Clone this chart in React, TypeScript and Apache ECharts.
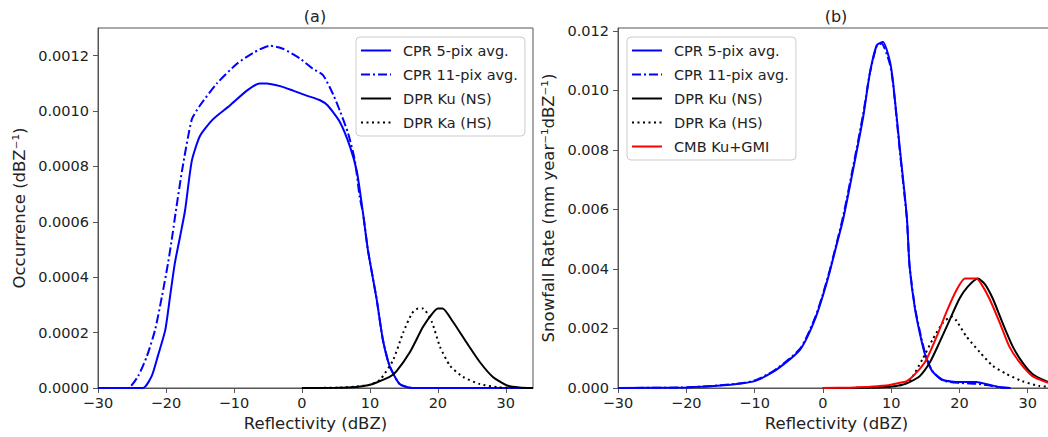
import React, { useEffect, useRef } from "react";
import * as echarts from "echarts";

// ---------- tick labels ----------
const xTicks = [-30, -20, -10, 0, 10, 20, 30];
const yTicksA = [0, 0.0002, 0.0004, 0.0006, 0.0008, 0.001, 0.0012];
const yTicksB = [0, 0.002, 0.004, 0.006, 0.008, 0.01, 0.012];

const names = ["CPR 5-pix avg.", "CPR 11-pix avg.", "DPR Ku (NS)", "DPR Ka (HS)", "CMB Ku+GMI"];

// ---------- panel (a): occurrence ----------
const aCpr5X = [-30, -23.4, -22.1, -21.2, -20.1, -19.4, -18.7, -17.9, -17.2, -16.2, -15, -13.1, -10.6, -8.1, -6.2, -5.2, -3.2, -1.3, 0.7, 2.6, 3.8, 5.6, 7.1, 8.1, 9.0, 9.7, 11, 11.9, 12.9, 14.4, 16.3, 33];
const aCpr5Y = [0, 0, 0.000043, 0.000115, 0.00021, 0.00033, 0.00045, 0.00055, 0.00064, 0.00082, 0.00091, 0.00097, 0.00102, 0.001074, 0.0011, 0.0011, 0.00109, 0.001074, 0.001056, 0.00104, 0.00102, 0.00096, 0.00087, 0.00078, 0.00063, 0.0005, 0.00032, 0.000176, 0.00008, 0.000014, 0, 0];

const aCpr11X = [-30, -25.6, -24.1, -22.8, -21.6, -20.6, -19.7, -19.0, -18.6, -17.6, -16.2, -15, -12.5, -9.6, -7.2, -4.7, -2.8, -0.3, 1.6, 3.1, 4.6, 5.6, 6.8, 7.8, 8.5, 9.0, 9.7, 11, 11.9, 12.9, 14.4, 16.3, 33];
const aCpr11Y = [0, 0, 0.000043, 0.000115, 0.00021, 0.00033, 0.00045, 0.00056, 0.00063, 0.00079, 0.00097, 0.00102, 0.0011, 0.00117, 0.00121, 0.001236, 0.001225, 0.00119, 0.001153, 0.00113, 0.00106, 0.001, 0.00092, 0.00082, 0.00069, 0.00063, 0.0005, 0.00032, 0.000176, 0.00008, 0.000014, 0, 0];

const aKuX = [0, 5, 8, 9.7, 11, 12.9, 13.9, 15.9, 17.8, 19.1, 20, 20.7, 22.2, 24.2, 26.2, 28.1, 30.1, 32, 34];
const aKuY = [0, 0.000001, 0.000004, 0.00001, 0.00002, 0.00004, 0.00006, 0.00013, 0.00022, 0.000266, 0.000287, 0.000287, 0.00024, 0.000165, 0.000093, 0.00004, 0.00001, 0.000002, 0];

const aKaX = [0, 5, 8, 10, 11.5, 13.4, 14.9, 16.2, 17.1, 17.8, 19.1, 20.3, 21.8, 23.7, 26.2, 28.7, 31];
const aKaY = [0, 0.000001, 0.000005, 0.000012, 0.00003, 0.0001, 0.0002, 0.00027, 0.000287, 0.000287, 0.00024, 0.00015, 0.00008, 0.00004, 0.000014, 0.000003, 0];

// ---------- panel (b): snowfall rate ----------
const bCpr5X = [-30, -20, -15, -12, -10, -7.3, -4.8, -3.3, -2.3, -1, 0, 1, 2, 3.0, 4.4, 5.9, 6.9, 7.9, 8.8, 9.8, 10.3, 11.3, 12.3, 12.7, 13.5, 14.5, 15.2, 16.1, 17.6, 20, 22.5, 24, 25.9, 27.5];
const bCpr5Y = [0, 0.00002, 0.00008, 0.00015, 0.00023, 0.00054, 0.00097, 0.0013, 0.0017, 0.0024, 0.0031, 0.0039, 0.0048, 0.0057, 0.0073, 0.0091, 0.0106, 0.01152, 0.01163, 0.011, 0.01025, 0.008, 0.00576, 0.0041, 0.00265, 0.00154, 0.00097, 0.00054, 0.00027, 0.0002, 0.0002, 0.00013, 0.00003, 0];

const bCpr11X = [-30, -20, -15, -12, -10, -7.3, -4.8, -3.3, -2.3, -1, 0, 1, 2, 3.0, 4.4, 5.9, 6.9, 7.9, 8.6, 9.8, 10.3, 11.3, 12.3, 12.7, 13.5, 14.5, 15.2, 16.1, 17.6, 20, 22.5, 24, 25.9, 27.5];
const bCpr11Y = [0, 0.00002, 0.00009, 0.00016, 0.00025, 0.00056, 0.001, 0.00133, 0.00175, 0.00245, 0.00315, 0.00395, 0.00485, 0.0058, 0.0074, 0.0092, 0.0106, 0.0115, 0.01158, 0.0109, 0.0102, 0.0079, 0.0057, 0.0041, 0.0027, 0.0016, 0.001, 0.00055, 0.00025, 0.00017, 0.00014, 0.0001, 0.00002, 0];

const bKuX = [0, 5, 6.4, 8, 9.8, 11.5, 12.7, 14.2, 15.7, 17.1, 18.6, 20, 21.2, 22.7, 23.7, 24.9, 26.3, 27.8, 29.2, 30.7, 32.7, 34];
const bKuY = [0, 0.000005, 0.00001, 0.00002, 0.00004, 0.0001, 0.0002, 0.0004, 0.00087, 0.00154, 0.0023, 0.003, 0.0034, 0.00368, 0.0035, 0.003, 0.0022, 0.0014, 0.00087, 0.00047, 0.00023, 0.00015];

const bKaX = [0, 5, 8, 10, 11.5, 12.7, 14.6, 16.1, 17.6, 18.9, 19.6, 21, 23, 24.9, 26.9, 29.2, 31.7, 34];
const bKaY = [0, 0.000005, 0.00002, 0.00005, 0.0001, 0.00023, 0.00097, 0.00164, 0.0022, 0.0024, 0.00225, 0.00174, 0.0012, 0.00074, 0.00047, 0.00023, 0.00007, 0.00003];

const bCmbX = [0, 4, 6.4, 8, 9.8, 11, 12.3, 13.8, 15.2, 16.7, 18.1, 19.6, 20.8, 22.5, 23.2, 24.4, 25.9, 27.3, 28.8, 30.7, 32.7, 34];
const bCmbY = [0, 0.00001, 0.00003, 0.00006, 0.0001, 0.00016, 0.00023, 0.00054, 0.00097, 0.00174, 0.00255, 0.0033, 0.00368, 0.00368, 0.0035, 0.003, 0.0022, 0.0014, 0.00087, 0.0004, 0.0002, 0.00012];

const zip = (xs: number[], ys: number[]) => xs.map((x, i) => [x, ys[i]]);

const FONT = "DejaVu Sans";
const TXT = "#222";
const AX = "#555";

const fmtX = (v: number) => (v < 0 ? "\u2212" + Math.abs(v) : String(v));

function makeLine(name: string, xi: number, data: number[][], color: string, type: any) {
  return {
    type: "line",
    name,
    xAxisIndex: xi,
    yAxisIndex: xi,
    data,
    symbol: "none",
    showSymbol: false,
    smooth: 0.2,
    lineStyle: { color, width: 2, type },
    itemStyle: { color },
    emphasis: { disabled: true },
    z: 2,
  };
}

const DASHDOT = [9, 3, 2, 3];
const DOT = [2, 3.5];

export default function App() {
  const ref = useRef<HTMLDivElement>(null);
  useEffect(() => {
    if (!ref.current) return;
    const chart = echarts.init(ref.current, null, { renderer: "svg" });
    const xAxisBase = () => ({
      type: "value",
      min: -30,
      max: 34,
      name: "Reflectivity (dBZ)",
      nameLocation: "middle",
      nameGap: 27,
      nameTextStyle: { fontFamily: FONT, fontSize: 16.5, color: TXT },
      axisLine: { show: true, onZero: false, lineStyle: { color: AX, width: 1 } },
      axisTick: { show: true, length: 5, lineStyle: { color: AX }, customValues: xTicks },
      axisLabel: {
        fontFamily: FONT,
        fontSize: 14.5,
        color: TXT,
        margin: 7,
        formatter: fmtX,
        customValues: xTicks,
      },
      splitLine: { show: false },
    });
    const legendBase = {
      orient: "vertical",
      itemWidth: 30,
      itemHeight: 14,
      itemGap: 9,
      padding: [6, 7, 6, 4],
      borderColor: "#ccc",
      borderWidth: 1,
      borderRadius: 4,
      backgroundColor: "rgba(255,255,255,0.85)",
      itemStyle: { opacity: 0 },
      textStyle: { fontFamily: FONT, fontSize: 14.5, color: TXT, padding: [0, 0, 0, 7] },
      selectedMode: false,
    };
    const option: any = {
      animation: false,
      backgroundColor: "#fff",
      grid: [
        { left: 98, top: 28, width: 435, height: 361, show: true, borderColor: AX, borderWidth: 1, containLabel: false },
        { left: 618, top: 28, width: 437, height: 361, show: true, borderColor: AX, borderWidth: 1, containLabel: false },
      ],
      xAxis: [
        { ...xAxisBase(), gridIndex: 0 },
        { ...xAxisBase(), gridIndex: 1 },
      ],
      yAxis: [
        {
          type: "value",
          gridIndex: 0,
          min: 0,
          max: 0.0013,
          name: "Occurrence (dBZ\u207B\u00B9)",
          nameLocation: "middle",
          nameGap: 70,
          nameTextStyle: { fontFamily: FONT, fontSize: 16.5, color: TXT },
          axisLine: { show: true, onZero: false, lineStyle: { color: AX, width: 1 } },
          axisTick: { show: true, length: 5, lineStyle: { color: AX }, customValues: yTicksA },
          axisLabel: {
            fontFamily: FONT,
            fontSize: 14.5,
            color: TXT,
            margin: 9,
            formatter: (v: number) => v.toFixed(4),
            customValues: yTicksA,
          },
          splitLine: { show: false },
        },
        {
          type: "value",
          gridIndex: 1,
          min: 0,
          max: 0.0121,
          name: "Snowfall Rate (mm year\u207B\u00B9dBZ\u207B\u00B9)",
          nameLocation: "middle",
          nameGap: 61,
          nameTextStyle: { fontFamily: FONT, fontSize: 16.5, color: TXT },
          axisLine: { show: true, onZero: false, lineStyle: { color: AX, width: 1 } },
          axisTick: { show: true, length: 5, lineStyle: { color: AX }, customValues: yTicksB },
          axisLabel: {
            fontFamily: FONT,
            fontSize: 14.5,
            color: TXT,
            margin: 9,
            formatter: (v: number) => v.toFixed(3),
            customValues: yTicksB,
          },
          splitLine: { show: false },
        },
      ],
      legend: [
        { ...legendBase, left: 356, top: 37, data: names.slice(0, 4) },
        { ...legendBase, left: 627, top: 37, data: names },
      ],
      graphic: [
        { type: "text", x: 315, y: 8, style: { text: "(a)", font: `16px "${FONT}"`, fill: TXT, textAlign: "center" } },
        { type: "text", x: 836, y: 8, style: { text: "(b)", font: `16px "${FONT}"`, fill: TXT, textAlign: "center" } },
      ],
      series: [
        makeLine(names[0], 0, zip(aCpr5X, aCpr5Y), "#0000ff", "solid"),
        makeLine(names[1], 0, zip(aCpr11X, aCpr11Y), "#0000ff", DASHDOT),
        makeLine(names[2], 0, zip(aKuX, aKuY), "#000000", "solid"),
        makeLine(names[3], 0, zip(aKaX, aKaY), "#000000", DOT),
        makeLine(names[0], 1, zip(bCpr5X, bCpr5Y), "#0000ff", "solid"),
        makeLine(names[1], 1, zip(bCpr11X, bCpr11Y), "#0000ff", DASHDOT),
        makeLine(names[2], 1, zip(bKuX, bKuY), "#000000", "solid"),
        makeLine(names[3], 1, zip(bKaX, bKaY), "#000000", DOT),
        makeLine(names[4], 1, zip(bCmbX, bCmbY), "#ff0000", "solid"),
      ],
    };
    chart.setOption(option);
    return () => chart.dispose();
  }, []);
  return (
    <div style={{ position: "fixed", left: 0, top: 0, width: 1048, height: 437, overflow: "hidden", background: "#fff" }}>
      <div ref={ref} style={{ width: 1064, height: 437 }} />
    </div>
  );
}
